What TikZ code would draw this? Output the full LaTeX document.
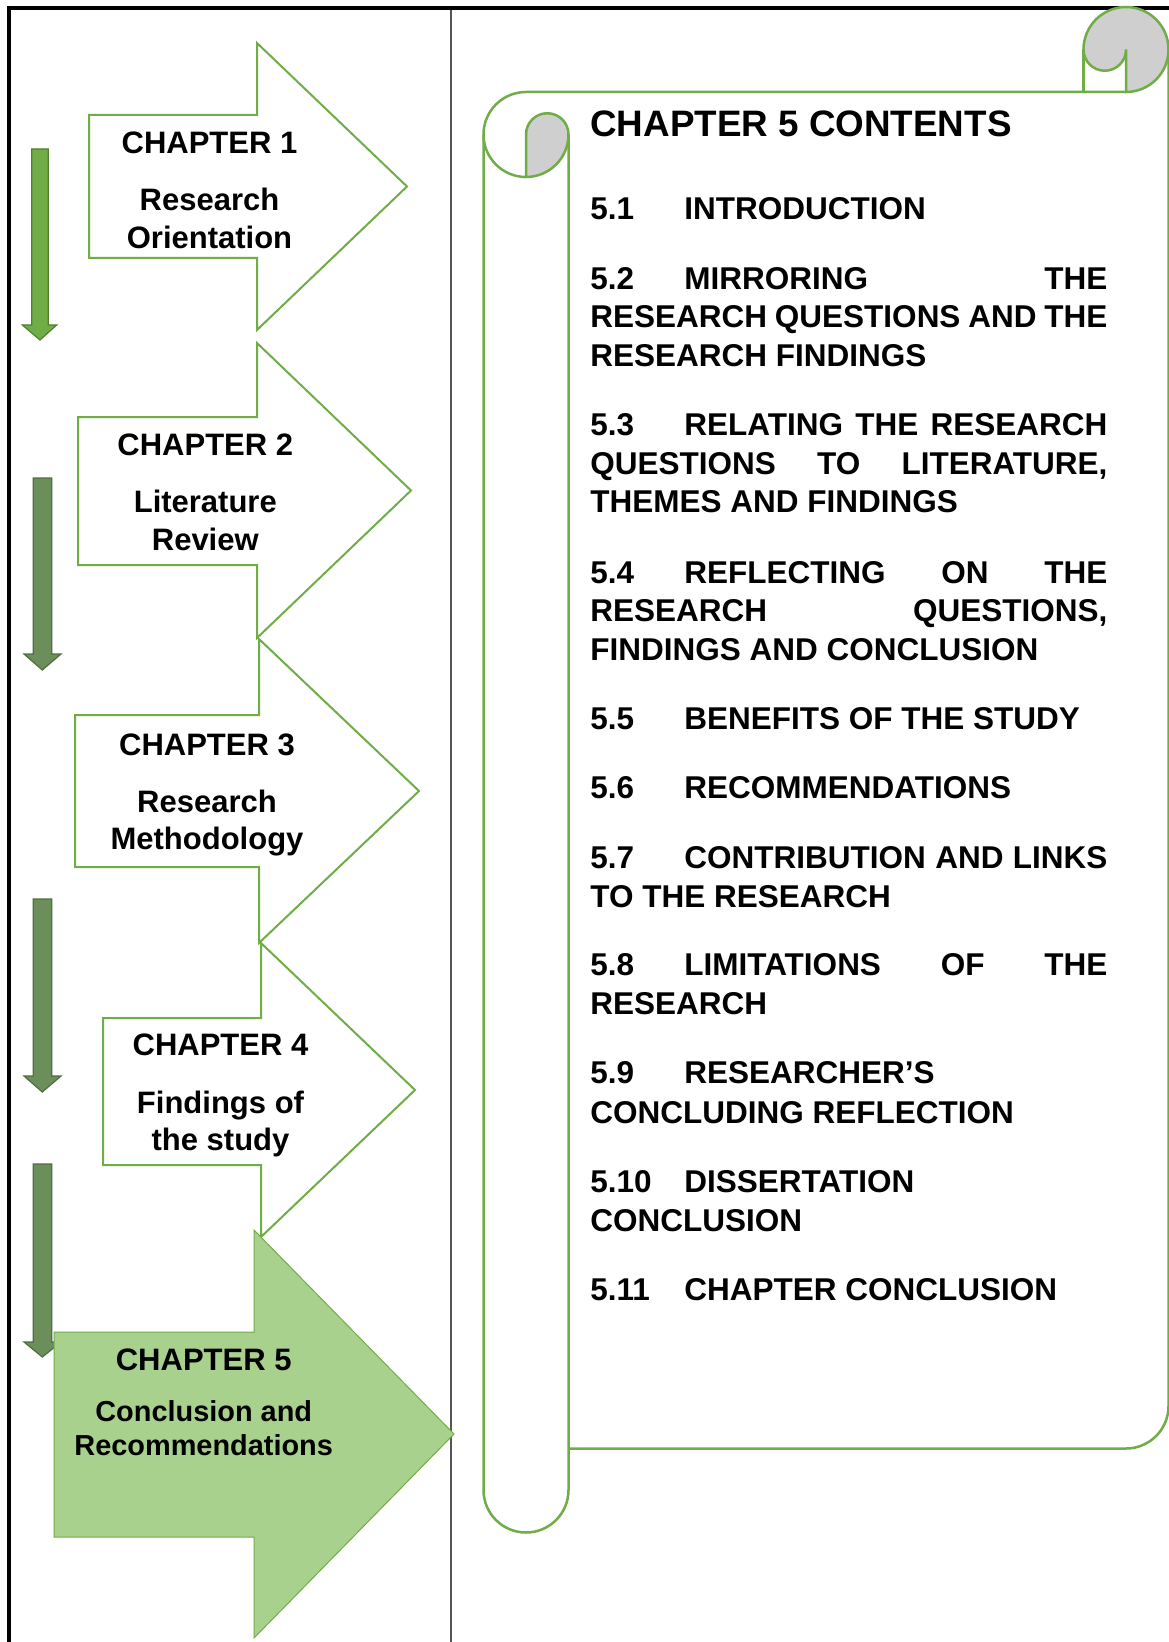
\documentclass[tikz,border=0pt]{standalone}
\usepackage{fontspec}
\setmainfont{Liberation Sans}
\definecolor{accgreen}{HTML}{70AD47}
\definecolor{litegreen}{HTML}{A9D18E}
\definecolor{arrowA}{HTML}{70AD47}
\definecolor{arrowAline}{HTML}{507E32}
\definecolor{arrowB}{HTML}{6B8E5B}
\definecolor{arrowBline}{HTML}{516D44}
\definecolor{curlgray}{HTML}{CFCFCF}
\definecolor{divgray}{HTML}{555555}
\begin{document}
\begin{tikzpicture}[x=0.5pt,y=-0.5pt,
  chapbox/.style={draw=accgreen, line width=1pt, line join=miter},
  lastbox/.style={draw=accgreen, line width=0.5pt, fill=litegreen, line join=miter},
  downA/.style={fill=arrowA, draw=arrowAline, line width=0.6pt},
  downB/.style={fill=arrowB, draw=arrowBline, line width=0.6pt},
  scroll/.style={draw=accgreen, line width=1.25pt},
  lbl/.style={anchor=base, inner sep=0pt, font=\bfseries\fontsize{15.5}{18}\selectfont},
  lblsmall/.style={lbl, font=\bfseries\fontsize{14.45}{17}\selectfont},
  itm/.style={anchor=base west, inner sep=0pt, font=\bfseries\fontsize{15.75}{18}\selectfont},
  head/.style={anchor=base west, inner sep=0pt, font=\bfseries\fontsize{18.4}{22}\selectfont}]
\useasboundingbox (0,0) rectangle (1168,1642);
\fill[white] (0,0) rectangle (1168,1642);

% page frame and column divider
\draw[line width=1.75pt, line join=miter] (9,1660) -- (9,8) -- (1180,8);
\draw[divgray, line width=1pt] (451,10) -- (451,1660);

% downward progress arrows
\draw[downA] (31.7,149) -- (48.3,149) -- (48.3,325) -- (56.7,325) -- (40,340) -- (22.3,325) -- (31.7,325) -- cycle;
\draw[downB] (33.3,478) -- (51.7,478) -- (51.7,654) -- (61,654) -- (42.3,670) -- (24,654) -- (33.3,654) -- cycle;
\draw[downB] (33.3,899) -- (51.7,899) -- (51.7,1076) -- (61,1076) -- (42.3,1092) -- (24,1076) -- (33.3,1076) -- cycle;
\draw[downB] (33.3,1164) -- (51.7,1164) -- (51.7,1342) -- (61,1342) -- (42.3,1357) -- (24,1342) -- (33.3,1342) -- cycle;

% chapter arrows
\draw[chapbox] (89,115) -- (257,115) -- (257,43) -- (407,186.5) -- (257,330) -- (257,258) -- (89,258) -- cycle;
\draw[chapbox] (78,417) -- (257,417) -- (257,343) -- (411,490.5) -- (257,638) -- (257,565) -- (78,565) -- cycle;
\draw[chapbox] (75,715) -- (259,715) -- (259,639) -- (419,791) -- (259,943) -- (259,867) -- (75,867) -- cycle;
\draw[chapbox] (103,1018) -- (261,1018) -- (261,943) -- (415,1090) -- (261,1237) -- (261,1165) -- (103,1165) -- cycle;
\draw[lastbox] (54,1332) -- (254,1332) -- (254,1230) -- (454,1434) -- (254,1638) -- (254,1537) -- (54,1537) -- cycle;

\node[lbl] (c1) at (209.5,153.5) {CHAPTER 1};
\node[lbl] (c1a) at (209.5,211) {Research};
\node[lbl] (c1b) at (209.5,248.5) {Orientation};
\node[lbl] (c2) at (205.3,455) {CHAPTER 2};
\node[lbl] (c2a) at (205.3,512.5) {Literature};
\node[lbl] (c2b) at (205.3,550) {Review};
\node[lbl] (c3) at (207,755) {CHAPTER 3};
\node[lbl] (c3a) at (207,812) {Research};
\node[lbl] (c3b) at (207,849) {Methodology};
\node[lbl] (c4) at (220.5,1055.5) {CHAPTER 4};
\node[lbl] (c4a) at (220.5,1113) {Findings of};
\node[lbl] (c4b) at (220.5,1150) {the study};
\node[lbl] (c5) at (203.7,1370) {CHAPTER 5};
\node[lblsmall] (c5a) at (203.7,1421.5) {Conclusion and};
\node[lblsmall] (c5b) at (203.7,1455) {Recommendations};

% scroll: rolled left edge and body
\draw[scroll] (483.5,1490) -- (483.5,134.5) arc[start angle=180, end angle=270, radius=42.5] -- (1126,92);
\draw[scroll] (483.5,134.5) arc[start angle=180, end angle=90, radius=42.5];
\filldraw[scroll, fill=curlgray] (526,177) -- (526,134.5) arc[start angle=180, end angle=360, radius=21.25] arc[start angle=0, end angle=90, radius=42.5] -- cycle;
\draw[scroll] (568.5,134.5) -- (568.5,1490) arc[start angle=0, end angle=180, radius=42.5];
% top right curl
\filldraw[scroll, fill=curlgray] (1083.5,49.5) arc[start angle=180, end angle=450, radius=42.5] -- (1126,49.5) arc[start angle=0, end angle=180, radius=21.25] -- cycle;
\draw[scroll] (1083.5,49.5) -- (1083.5,92);
\draw[scroll] (1168.5,49.5) -- (1168.5,1406) arc[start angle=0, end angle=90, radius=42.5] -- (568.5,1448.5);

% contents
\node[head] (hd) at (590,136.6) {CHAPTER 5 CONTENTS};

\node[itm] (n1) at (590,219.6) {5.1};
\node[itm] (t1) at (684,219.6) {INTRODUCTION};

\node[itm] (n2) at (590,289.7) {5.2};
\node[itm] (t2a) at (684,289.7) {\makebox[211.5pt][s]{MIRRORING THE}};
\node[itm] (t2b) at (590,327.4) {\makebox[258.5pt][s]{RESEARCH QUESTIONS AND THE}};
\node[itm] (t2c) at (590,366.2) {RESEARCH FINDINGS};

\node[itm] (n3) at (590,435.3) {5.3};
\node[itm] (t3a) at (684,435.3) {\makebox[211.5pt][s]{RELATING THE RESEARCH}};
\node[itm] (t3b) at (590,474.1) {\makebox[258.5pt][s]{QUESTIONS TO LITERATURE,}};
\node[itm] (t3c) at (590,512.9) {THEMES AND FINDINGS};

\node[itm] (n4) at (590,583) {5.4};
\node[itm] (t4a) at (684,583) {\makebox[211.5pt][s]{REFLECTING ON THE}};
\node[itm] (t4b) at (590,621.8) {\makebox[258.5pt][s]{RESEARCH QUESTIONS,}};
\node[itm] (t4c) at (590,660.6) {FINDINGS AND CONCLUSION};

\node[itm] (n5) at (590,729.7) {5.5};
\node[itm] (t5) at (684,729.7) {BENEFITS OF THE STUDY};

\node[itm] (n6) at (590,798.8) {5.6};
\node[itm] (t6) at (684,798.8) {RECOMMENDATIONS};

\node[itm] (n7) at (590,868) {5.7};
\node[itm] (t7a) at (684,868) {\makebox[211.5pt][s]{CONTRIBUTION AND LINKS}};
\node[itm] (t7b) at (590,907.8) {TO THE RESEARCH};

\node[itm] (n8) at (590,975.8) {5.8};
\node[itm] (t8a) at (684,975.8) {\makebox[211.5pt][s]{LIMITATIONS OF THE}};
\node[itm] (t8b) at (590,1014.6) {RESEARCH};

\node[itm] (n9) at (590,1083.7) {5.9};
\node[itm] (t9a) at (684,1083.7) {RESEARCHER’S};
\node[itm] (t9b) at (590,1123.5) {CONCLUDING REFLECTION};

\node[itm] (n10) at (590,1192.7) {5.10};
\node[itm] (t10a) at (684,1192.7) {DISSERTATION};
\node[itm] (t10b) at (590,1231.4) {CONCLUSION};

\node[itm] (n11) at (590,1300.6) {5.11};
\node[itm] (t11) at (684,1300.6) {CHAPTER CONCLUSION};
\end{tikzpicture}
\end{document}
